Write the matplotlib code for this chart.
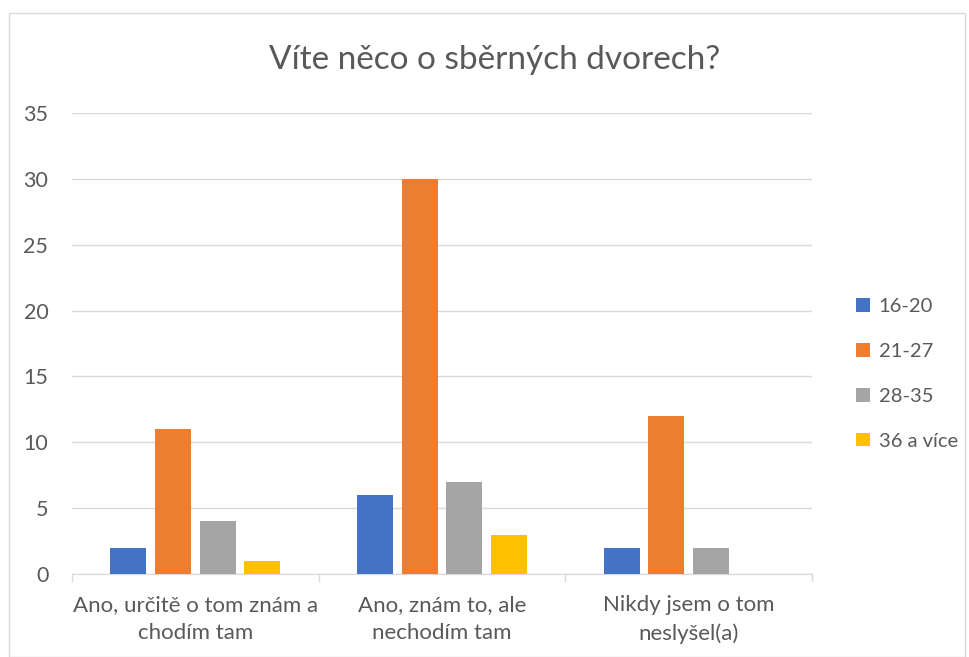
import matplotlib
matplotlib.use("Agg")
import matplotlib.pyplot as plt
import numpy as np
from matplotlib.patches import Rectangle

categories = ["Ano, určitě o tom znám a\nchodím tam", "Ano, znám to, ale\nnechodím tam", "Nikdy jsem o tom\nneslyšel(a)"]
series_names = ["16-20", "21-27", "28-35", "36 a více"]
v_16_20 = [2, 6, 2]
v_21_27 = [11, 30, 12]
v_28_35 = [4, 7, 2]
v_36 = [1, 3, 0]
colors = ["#4472C4", "#ED7D31", "#A5A5A5", "#FFC000"]
title = "Víte něco o sběrných dvorech?"

plt.rcParams['font.family'] = ['Lato', 'DejaVu Sans']
txt = "#595959"

fig = plt.figure(figsize=(9.7, 6.57), dpi=100)
fig.patches.append(Rectangle((0.009, 0.0), 0.986, 0.980, transform=fig.transFigure,
                             fill=False, edgecolor="#D9D9D9", lw=1))
ax = fig.add_axes([0.0742, 0.1263, 0.7629, 0.7017])

x = np.arange(len(categories))
allv = [v_16_20, v_21_27, v_28_35, v_36]
spacing = 0.181
w = 0.146
for i, (name, vals, c) in enumerate(zip(series_names, allv, colors)):
    ax.bar(x + (i - 1.5) * spacing, vals, width=w, color=c, label=name, zorder=3)

ax.set_xlim(-0.5, 2.5)
ax.set_ylim(0, 35)
ax.set_yticks(range(0, 36, 5))
ax.yaxis.grid(True, color="#D9D9D9", lw=1, zorder=0)
for s in ["top", "right", "left"]:
    ax.spines[s].set_visible(False)
ax.spines["bottom"].set_color("#D9D9D9")
ax.tick_params(axis="y", length=0, labelsize=15.5, labelcolor=txt, pad=17)
ax.set_xticks(x)
ax.set_xticklabels(categories, fontsize=16, color=txt, linespacing=1.5)
ax.tick_params(axis="x", length=0, pad=15)
for b in [-0.5, 0.5, 1.5, 2.5]:
    ax.plot([b, b], [0, -0.015], transform=ax.get_xaxis_transform(), color="#D9D9D9",
            lw=1, clip_on=False)

fig.text(0.51, 0.908, title, ha="center", va="center", fontsize=24, color=txt)
leg = ax.legend(loc="center left", bbox_to_anchor=(1.035, 0.434), frameon=False,
                fontsize=14.5, labelcolor=txt, handlelength=0.68, handleheight=0.68,
                handletextpad=0.45, labelspacing=1.38)
fig.savefig("out.png", dpi=100)
